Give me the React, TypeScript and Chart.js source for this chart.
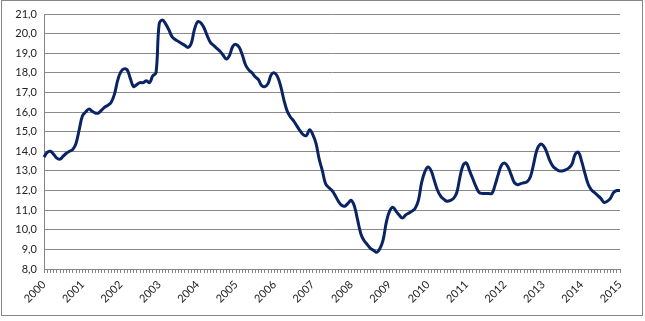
import React, { useEffect, useRef } from "react";
import { Chart, registerables } from "chart.js";

Chart.register(...registerables);

const years: number[] = [2000, 2001, 2002, 2003, 2004, 2005, 2006, 2007, 2008, 2009, 2010, 2011, 2012, 2013, 2014, 2015];

// monthly values, Jan 2000 .. Jan 2015
const values: number[] = [
  13.7, 13.95, 14.0, 13.85, 13.65, 13.6, 13.75, 13.9, 14.0, 14.1, 14.4, 15.1,
  15.8, 16.0, 16.15, 16.05, 15.95, 15.95, 16.1, 16.25, 16.35, 16.5, 16.9, 17.6,
  18.05, 18.2, 18.15, 17.7, 17.3, 17.4, 17.5, 17.5, 17.6, 17.5, 17.85, 18.0,
  20.5, 20.7, 20.5, 20.2, 19.85, 19.7, 19.6, 19.5, 19.4, 19.3, 19.5, 20.2,
  20.6, 20.55, 20.3, 19.9, 19.55, 19.4, 19.25, 19.1, 18.9, 18.7, 18.9, 19.35,
  19.45, 19.3, 18.9, 18.4, 18.15, 18.0, 17.8, 17.65, 17.35, 17.3, 17.45, 17.9,
  18.0, 17.8, 17.3, 16.6, 16.05, 15.75, 15.55, 15.3, 15.05, 14.85, 14.8, 15.1,
  14.85, 14.4, 13.6, 13.0, 12.35, 12.15, 12.0, 11.75, 11.45, 11.25, 11.2, 11.35,
  11.5, 11.2, 10.5, 9.8, 9.45, 9.25, 9.05, 8.95, 8.85, 9.05, 9.5, 10.4,
  10.95, 11.15, 10.95, 10.75, 10.6, 10.75, 10.85, 10.95, 11.1, 11.5, 12.4, 12.95,
  13.2, 13.0, 12.5, 12.0, 11.7, 11.55, 11.45, 11.5, 11.6, 11.9, 12.7, 13.3,
  13.4, 13.0, 12.6, 12.2, 11.9, 11.85, 11.85, 11.85, 11.85, 12.3, 12.85, 13.3,
  13.4, 13.2, 12.8, 12.4, 12.3, 12.35, 12.4, 12.45, 12.7, 13.35, 14.05, 14.35,
  14.3, 14.0, 13.55, 13.25, 13.1, 13.0, 13.0, 13.05, 13.15, 13.35, 13.85, 13.95,
  13.5, 12.9, 12.35, 12.05, 11.9, 11.75, 11.6, 11.4, 11.45, 11.6, 11.9, 12.0,
  12.0,
];

const yMin = 8;
const yMax = 21;

const monthLabels: string[] = values.map((_, i) => (i % 12 === 0 ? String(years[i / 12]) : ""));

const frame = {
  id: "frame",
  afterDraw(chart: any) {
    const ctx = chart.ctx;
    ctx.save();
    ctx.strokeStyle = "#868686";
    ctx.lineWidth = 1;
    ctx.strokeRect(1.5, 0.5, 641, 315);
    ctx.restore();
  },
};

export default function App() {
  const ref = useRef<HTMLCanvasElement | null>(null);
  useEffect(() => {
    document.body.style.margin = "0";
    const font = { family: "Lato, 'Open Sans', sans-serif", size: 11 };
    const chart = new Chart(ref.current as HTMLCanvasElement, {
      type: "line",
      data: {
        labels: monthLabels,
        datasets: [
          {
            data: values,
            borderColor: "#0a2463",
            borderWidth: 3,
            pointRadius: 0,
            tension: 0.4,
            fill: false,
          },
        ],
      },
      options: {
        animation: false,
        responsive: true,
        maintainAspectRatio: false,
        layout: { padding: { left: 0, top: 14, right: 25, bottom: 0 } },
        plugins: { legend: { display: false }, tooltip: { enabled: false } },
        scales: {
          x: {
            offset: false,
            grid: {
              display: true,
              drawOnChartArea: false,
              drawTicks: true,
              tickLength: 4,
              color: "#868686",
            },
            border: { display: true, color: "#868686", width: 1 },
            ticks: {
              autoSkip: false,
              minRotation: 45,
              maxRotation: 45,
              padding: 5,
              color: "#222",
              font,
            },
            afterFit: (s: any) => {
              s.height = 52;
            },
          },
          y: {
            min: yMin,
            max: yMax,
            grid: { color: "#8a8a8a", lineWidth: 1, drawTicks: false },
            border: { display: true, color: "#868686", width: 1 },
            ticks: {
              stepSize: 1,
              padding: 7,
              color: "#222",
              font,
              callback: (v: any) => Number(v).toFixed(1).replace(".", ","),
            },
            afterFit: (s: any) => {
              s.width = 44;
            },
          },
        },
      },
      plugins: [frame],
    });
    return () => chart.destroy();
  }, []);
  return (
    <div style={{ width: 645, height: 321, position: "relative", background: "#fff" }}>
      <canvas ref={ref} />
    </div>
  );
}
